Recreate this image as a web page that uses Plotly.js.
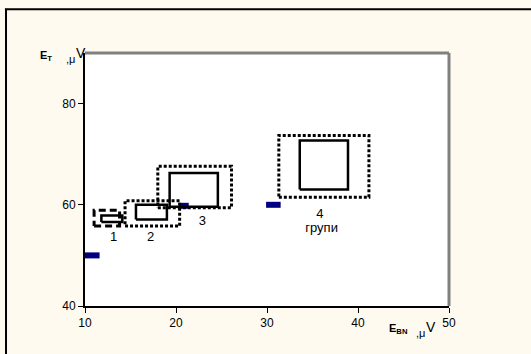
<!DOCTYPE html>
<html>
<head>
<meta charset="utf-8">
<script src="https://cdn.plot.ly/plotly-3.0.1.min.js"></script>
<style>html,body{margin:0;padding:0;background:#FFFAEF;}#chart{width:531px;height:354px;}</style>
</head>
<body>
<div id="chart"></div>
<script>
// Group labels
const groupLabels = ['1', '2', '3', '4'];
// Inner (solid) rectangles: x-from, x-to, y-from, y-to
const innerX0 = [11.8, 15.6, 19.3, 33.6];
const innerX1 = [14.1, 19.0, 24.6, 38.9];
const innerY0 = [56.6, 57.1, 59.6, 63.0];
const innerY1 = [57.9, 60.0, 66.3, 72.7];
// Outer (dashed / dotted) rectangles
const outerX0 = [11.0, 14.4, 18.0, 31.3];
const outerX1 = [13.8, 20.4, 26.1, 41.2];
const outerY0 = [55.8, 55.8, 59.4, 61.5];
const outerY1 = [58.9, 60.8, 67.6, 73.7];
const outerDash = ['dash', 'dot', 'dot', 'dot'];
// Blue markers (short horizontal bars)
const barX0 = [10.0, 20.3, 29.9];
const barX1 = [11.6, 21.4, 31.5];
const barY = [50, 59.8, 60];
// Label positions
const labelX = [13.15, 17.2, 22.9, 35.8];
const labelY = [53.5, 53.5, 56.6, 58.0];
const extraLabel = 'групи';
const extraLabelX = 36.0, extraLabelY = 55.2;
// Axis ticks
const xTicks = [10, 20, 30, 40, 50];
const yTicks = [40, 60, 80];

const traces = [];
for (let i = 0; i < barY.length; i++) {
  traces.push({type: 'scatter', mode: 'lines', x: [barX0[i], barX1[i]], y: [barY[i], barY[i]],
    line: {color: '#000080', width: 6}, hoverinfo: 'skip', showlegend: false});
}
for (let i = 0; i < groupLabels.length; i++) {
  traces.push({type: 'scatter', mode: 'lines',
    x: [outerX0[i], outerX1[i], outerX1[i], outerX0[i], outerX0[i]],
    y: [outerY0[i], outerY0[i], outerY1[i], outerY1[i], outerY0[i]],
    line: {color: '#000000', width: 3, dash: outerDash[i] === 'dash' ? '7px,4px' : '3px,2px'},
    hoverinfo: 'skip', showlegend: false});
  traces.push({type: 'scatter', mode: 'lines',
    x: [innerX0[i], innerX1[i], innerX1[i], innerX0[i], innerX0[i]],
    y: [innerY0[i], innerY0[i], innerY1[i], innerY1[i], innerY0[i]],
    line: {color: '#000000', width: 2.5},
    hoverinfo: 'skip', showlegend: false});
}
traces.push({type: 'scatter', mode: 'text', x: labelX.concat([extraLabelX]), y: labelY.concat([extraLabelY]),
  text: groupLabels.concat([extraLabel]), textfont: {family: 'Liberation Sans, Arial', size: 13, color: '#000'},
  hoverinfo: 'skip', showlegend: false});

const font = {family: 'Liberation Sans, Arial', size: 12, color: '#000'};
const layout = {
  width: 531, height: 354,
  margin: {l: 85, r: 82, t: 53, b: 48},
  paper_bgcolor: '#FFFAEF', plot_bgcolor: '#ffffff',
  font: font,
  showlegend: false,
  xaxis: {range: [10, 50], tickvals: xTicks, ticktext: xTicks.map(String), ticks: 'outside', ticklen: 5,
    tickcolor: '#000', showgrid: false, zeroline: false, showline: true, linecolor: '#000', linewidth: 2,
    tickfont: font, fixedrange: true},
  yaxis: {range: [40, 90], tickvals: yTicks, ticktext: yTicks.map(String), ticks: 'outside', ticklen: 5,
    tickcolor: '#000', showgrid: false, zeroline: false, showline: true, linecolor: '#000', linewidth: 2,
    tickfont: font, fixedrange: true},
  shapes: [
    {type: 'line', xref: 'paper', yref: 'paper', x0: 0, x1: 1, y0: 1, y1: 1, line: {color: '#808080', width: 3}},
    {type: 'line', xref: 'paper', yref: 'paper', x0: 1, x1: 1, y0: 0, y1: 1, line: {color: '#808080', width: 3}},
    {type: 'line', xref: 'paper', yref: 'paper', x0: -0.22, x1: 1.3, y0: 1.173, y1: 1.173, line: {color: '#000', width: 2}},
    {type: 'line', xref: 'paper', yref: 'paper', x0: -0.217, x1: -0.217, y0: -0.3, y1: 1.175, line: {color: '#000', width: 2}}
  ],
  annotations: [
    {xref: 'paper', yref: 'paper', x: -0.128, y: 0.99, xanchor: 'left', yanchor: 'middle', showarrow: false,
      text: '<b>E<sub>T</sub></b>', font: {family: 'Liberation Sans, Arial', size: 11, color: '#000'}},
    {xref: 'paper', yref: 'paper', x: -0.058, y: 0.978, xanchor: 'left', yanchor: 'middle', showarrow: false,
      text: ',μ', font: {family: 'Liberation Sans, Arial', size: 11, color: '#000'}},
    {xref: 'paper', yref: 'paper', x: -0.03, y: 1.0, xanchor: 'left', yanchor: 'middle', showarrow: false,
      text: 'V', font: {family: 'Liberation Sans, Arial', size: 14, color: '#000'}},
    {xref: 'paper', yref: 'paper', x: 0.83, y: -0.092, xanchor: 'left', yanchor: 'middle', showarrow: false,
      text: '<b>E<sub>BN</sub></b>', font: {family: 'Liberation Sans, Arial', size: 11, color: '#000'}},
    {xref: 'paper', yref: 'paper', x: 0.905, y: -0.105, xanchor: 'left', yanchor: 'middle', showarrow: false,
      text: ',μ', font: {family: 'Liberation Sans, Arial', size: 11, color: '#000'}},
    {xref: 'paper', yref: 'paper', x: 0.93, y: -0.083, xanchor: 'left', yanchor: 'middle', showarrow: false,
      text: 'V', font: {family: 'Liberation Sans, Arial', size: 14, color: '#000'}}
  ]
};
Plotly.newPlot('chart', traces, layout, {staticPlot: true, displayModeBar: false});
</script>
</body>
</html>
